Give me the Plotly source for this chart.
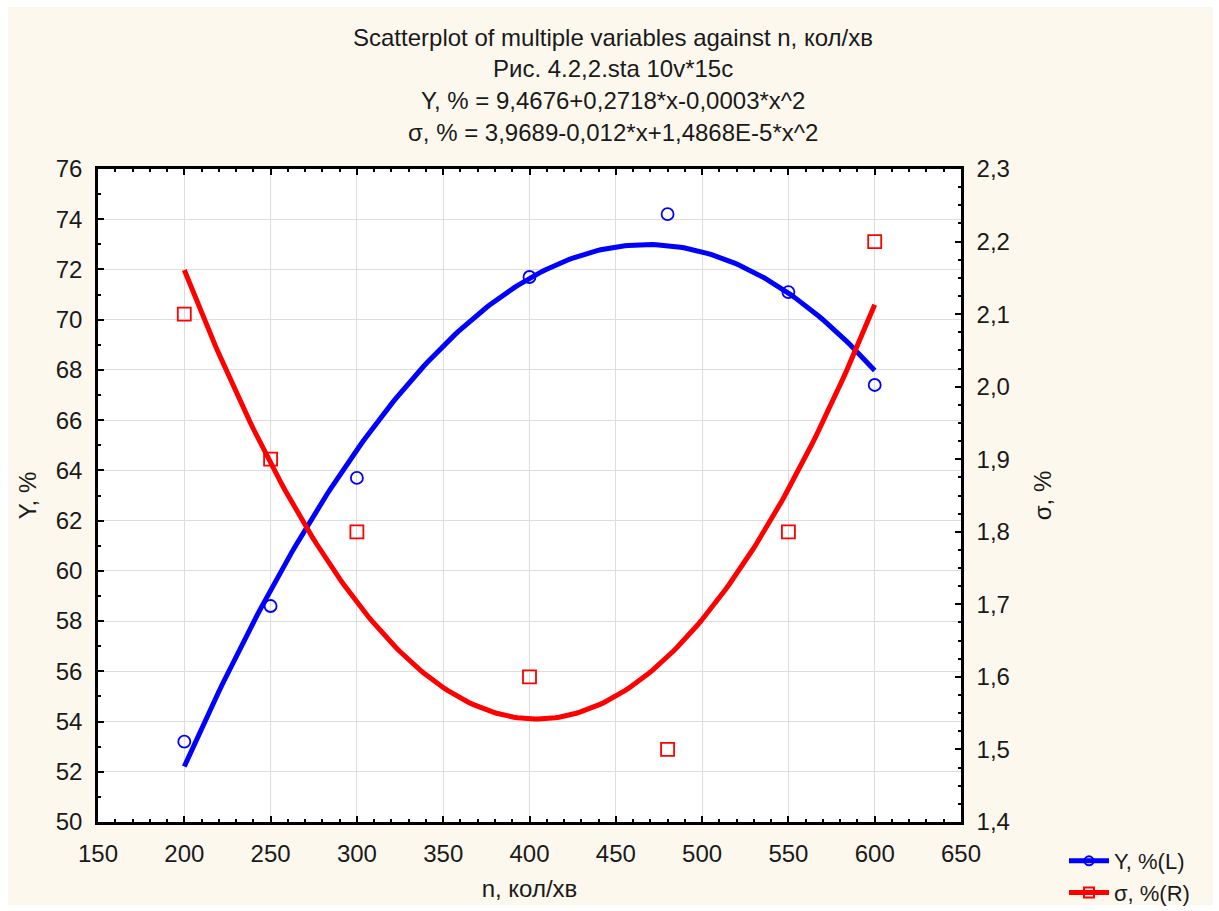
import numpy as np
import plotly.graph_objects as go

# ---- data ----
n_vals = [200, 250, 300, 400, 480, 550, 600]
y_vals = [53.2, 58.6, 63.7, 71.7, 74.2, 71.1, 67.4]
sigma_vals = [2.1, 1.9, 1.8, 1.6, 1.5, 1.8, 2.2]

title_lines = [
    "Scatterplot of multiple variables against n, кол/хв",
    "Рис. 4.2,2.sta 10v*15c",
    "Y, % = 9,4676+0,2718*x-0,0003*x^2",
    "σ, % = 3,9689-0,012*x+1,4868E-5*x^2",
]

# quadratic regression fits (as in the original)
cy = np.polyfit(n_vals, y_vals, 2)
cs = np.polyfit(n_vals, sigma_vals, 2)
xf = np.linspace(min(n_vals), max(n_vals), 200)
yf = np.polyval(cy, xf)
sf = np.polyval(cs, xf)

BLUE = "#0000ff"
RED = "#ff0000"
FONT = "Liberation Sans, Arial, sans-serif"
TXT = "#1a1a1a"

fig = go.Figure()
fig.add_trace(go.Scatter(x=xf, y=yf, mode="lines", line=dict(color=BLUE, width=5),
                         showlegend=False, hoverinfo="skip"))
fig.add_trace(go.Scatter(x=xf, y=sf, mode="lines", line=dict(color=RED, width=5),
                         yaxis="y2", showlegend=False, hoverinfo="skip"))
fig.add_trace(go.Scatter(x=n_vals, y=y_vals, mode="markers",
                         marker=dict(symbol="circle-open", size=12, color=BLUE, line=dict(width=1.8)),
                         showlegend=False))
fig.add_trace(go.Scatter(x=n_vals, y=sigma_vals, mode="markers", yaxis="y2",
                         marker=dict(symbol="square-open", size=13, color=RED, line=dict(width=1.8)),
                         showlegend=False))
# legend entries
fig.add_trace(go.Scatter(x=[None], y=[None], mode="lines+markers", name="Y, %(L)",
                         line=dict(color=BLUE, width=5),
                         marker=dict(symbol="circle-open", size=9, color=BLUE, line=dict(width=2))))
fig.add_trace(go.Scatter(x=[None], y=[None], mode="lines+markers", name="σ, %(R)", yaxis="y2",
                         line=dict(color=RED, width=5),
                         marker=dict(symbol="square-open", size=10, color=RED, line=dict(width=2))))

L, R, T, B = 98, 258, 169, 89
W, H = 1219, 911
pw, ph = W - L - R, H - T - B

def py(pix):
    return (H - B - pix) / ph

def px(pix):
    return (pix - L) / pw

annotations = []
for txt, ypix in zip(title_lines, [37, 69, 101, 133]):
    annotations.append(dict(text=txt, x=px(613), y=py(ypix), xref="paper", yref="paper",
                            showarrow=False, xanchor="center", yanchor="middle",
                            font=dict(size=24, color=TXT, family=FONT)))

shapes = [
    dict(type="rect", xref="paper", yref="paper", x0=px(8), x1=px(1213), y0=py(905), y1=py(7),
         fillcolor="#fdf8ee", line=dict(width=0), layer="below"),
    dict(type="rect", xref="paper", yref="paper", x0=0, x1=1, y0=0, y1=1,
         fillcolor="white", line=dict(width=0), layer="below"),
]

axis_common = dict(showline=True, linecolor="black", linewidth=2.5, ticks="inside",
                   tickcolor="black", tickwidth=2, ticklen=6, automargin=False,
                   tickfont=dict(size=24, color=TXT, family=FONT),
                   gridcolor="#dddddd", gridwidth=1, zeroline=False)

fig.update_layout(
    width=W, height=H,
    margin=dict(l=L, r=R, t=T, b=B, autoexpand=False),
    paper_bgcolor="white", plot_bgcolor="rgba(0,0,0,0)",
    separators=", ",
    font=dict(family=FONT, color=TXT),
    annotations=annotations,
    shapes=shapes,
    xaxis=dict(range=[150, 650], dtick=50, tick0=150, mirror="ticks",
               minor=dict(dtick=10, ticks="inside", ticklen=3, tickcolor="black", tickwidth=1.5, showgrid=False),
               title=dict(text="n, кол/хв", font=dict(size=24, color=TXT, family=FONT), standoff=15),
               ticklabelstandoff=8,
               **axis_common),
    yaxis=dict(range=[50, 76], dtick=2, tick0=50,
               minor=dict(dtick=1, ticks="inside", ticklen=3, tickcolor="black", tickwidth=1.5, showgrid=False),
               title=dict(text="Y, %", font=dict(size=24, color=TXT, family=FONT), standoff=13),
               ticklabelstandoff=8,
               **axis_common),
    yaxis2=dict(range=[1.4, 2.3], dtick=0.1, tick0=1.4, overlaying="y", side="right",
                tickformat=".1f", showgrid=False,
                minor=dict(dtick=0.025, ticks="inside", ticklen=3, tickcolor="black", tickwidth=1.5, showgrid=False),
                title=dict(text="σ, %", font=dict(size=24, color=TXT, family=FONT), standoff=26),
                ticklabelstandoff=8,
                **{k: v for k, v in axis_common.items() if k not in ("gridcolor", "gridwidth")}),
    legend=dict(x=px(1064), y=py(840), xanchor="left", yanchor="top",
                bgcolor="rgba(0,0,0,0)", font=dict(size=22, color=TXT, family=FONT),
                itemwidth=40, tracegroupgap=0),
)

fig.write_html("out.html")
